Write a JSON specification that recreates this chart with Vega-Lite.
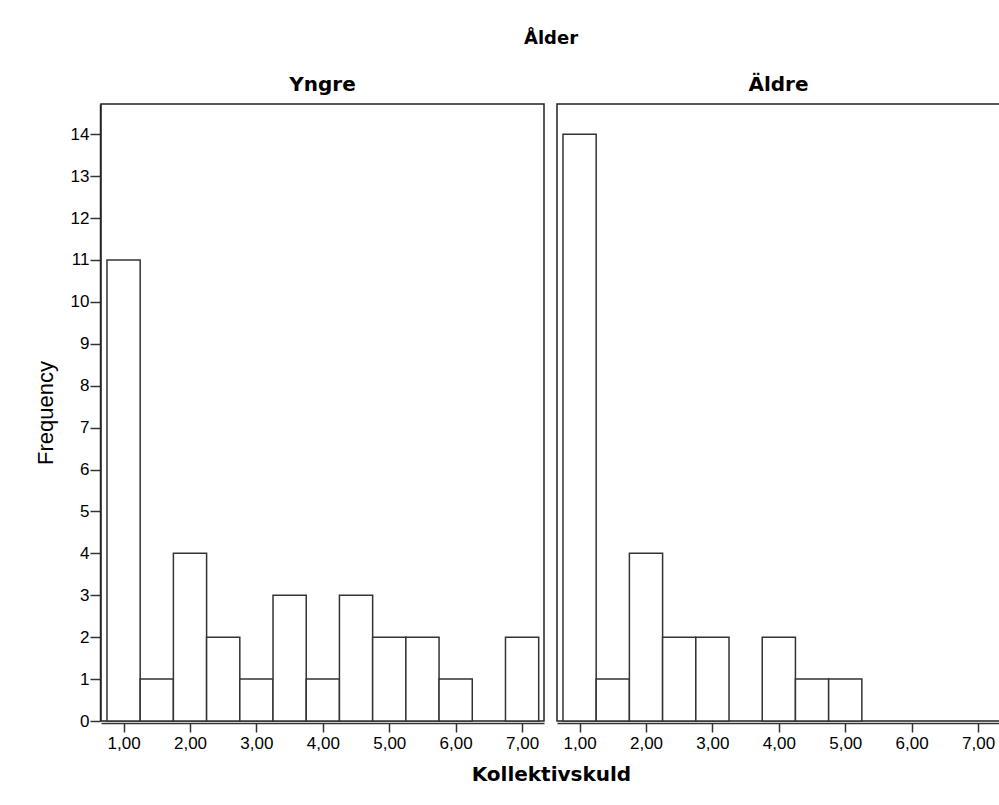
{
  "$schema": "https://vega.github.io/schema/vega-lite/v6.json",
  "padding": {"left": 34, "top": 30, "right": 0, "bottom": 5},
  "background": "white",
  "data": {"values": [
    {"alder": "Yngre", "bin_start": 0.75, "bin_end": 1.25, "count": 11},
    {"alder": "Yngre", "bin_start": 1.25, "bin_end": 1.75, "count": 1},
    {"alder": "Yngre", "bin_start": 1.75, "bin_end": 2.25, "count": 4},
    {"alder": "Yngre", "bin_start": 2.25, "bin_end": 2.75, "count": 2},
    {"alder": "Yngre", "bin_start": 2.75, "bin_end": 3.25, "count": 1},
    {"alder": "Yngre", "bin_start": 3.25, "bin_end": 3.75, "count": 3},
    {"alder": "Yngre", "bin_start": 3.75, "bin_end": 4.25, "count": 1},
    {"alder": "Yngre", "bin_start": 4.25, "bin_end": 4.75, "count": 3},
    {"alder": "Yngre", "bin_start": 4.75, "bin_end": 5.25, "count": 2},
    {"alder": "Yngre", "bin_start": 5.25, "bin_end": 5.75, "count": 2},
    {"alder": "Yngre", "bin_start": 5.75, "bin_end": 6.25, "count": 1},
    {"alder": "Yngre", "bin_start": 6.75, "bin_end": 7.25, "count": 2},
    {"alder": "Äldre", "bin_start": 0.75, "bin_end": 1.25, "count": 14},
    {"alder": "Äldre", "bin_start": 1.25, "bin_end": 1.75, "count": 1},
    {"alder": "Äldre", "bin_start": 1.75, "bin_end": 2.25, "count": 4},
    {"alder": "Äldre", "bin_start": 2.25, "bin_end": 2.75, "count": 2},
    {"alder": "Äldre", "bin_start": 2.75, "bin_end": 3.25, "count": 2},
    {"alder": "Äldre", "bin_start": 3.75, "bin_end": 4.25, "count": 2},
    {"alder": "Äldre", "bin_start": 4.25, "bin_end": 4.75, "count": 1},
    {"alder": "Äldre", "bin_start": 4.75, "bin_end": 5.25, "count": 1}
  ]},
  "facet": {
    "column": {
      "field": "alder", "type": "nominal", "sort": ["Yngre", "Äldre"], "title": "Ålder",
      "header": {
        "titleFont": "DejaVu Sans", "titleFontSize": 18, "titleFontWeight": "bold", "titleColor": "black", "titlePadding": 17,
        "labelFont": "DejaVu Sans", "labelFontSize": 20, "labelFontWeight": "bold", "labelColor": "black", "labelPadding": 8
      }
    }
  },
  "spacing": 11,
  "spec": {
    "width": 443,
    "height": 617,
    "mark": {"type": "rect", "fill": "white", "stroke": "#333333", "strokeWidth": 1.5},
    "encoding": {
      "x": {
        "field": "bin_start", "type": "quantitative",
        "scale": {"domain": [0.66, 7.33], "nice": false, "zero": false},
        "axis": {"title": null, "values": [1, 2, 3, 4, 5, 6, 7], "labelExpr": "replace(format(datum.value, '.2f'), '.', ',')", "tickSize": 9, "labelPadding": 3, "domainWidth": 1.5, "tickWidth": 1.5, "domainColor": "#333333", "tickColor": "#333333", "labelFont": "Liberation Sans", "labelFontSize": 17, "labelColor": "black", "grid": false}
      },
      "x2": {"field": "bin_end"},
      "y": {
        "field": "count", "type": "quantitative",
        "scale": {"domain": [0, 14.72], "nice": false},
        "axis": {"title": "Frequency", "values": [0,1,2,3,4,5,6,7,8,9,10,11,12,13,14], "format": "d", "tickSize": 10, "labelPadding": 1, "domainWidth": 1.5, "tickWidth": 1.5, "domainColor": "#333333", "tickColor": "#333333", "labelFont": "Liberation Sans", "labelFontSize": 17, "labelColor": "black", "titleFont": "Liberation Sans", "titleFontSize": 22, "titleFontWeight": "normal", "titleColor": "black", "titlePadding": 13, "grid": false}
      },
      "y2": {"datum": 0}
    }
  },
  "title": {"text": "Kollektivskuld", "orient": "bottom", "anchor": "middle", "font": "DejaVu Sans", "fontSize": 20, "fontWeight": "bold", "color": "black", "offset": 14, "dx": 34},
  "config": {
    "view": {"stroke": "#222222", "strokeWidth": 1.5}
  }
}
